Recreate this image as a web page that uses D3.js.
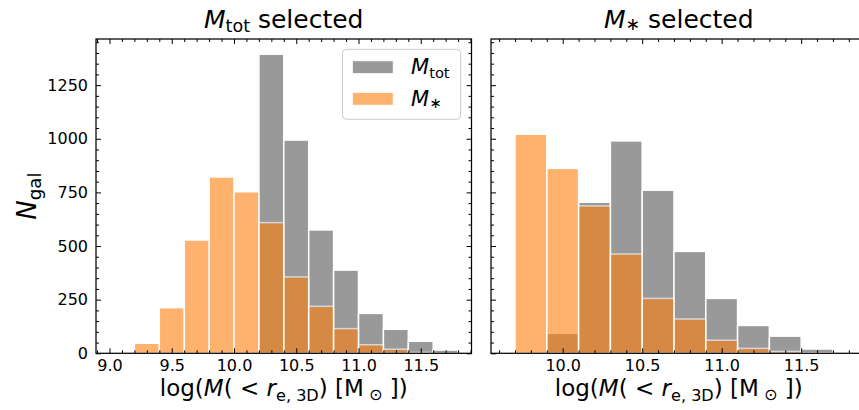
<!DOCTYPE html>
<html>
<head>
<meta charset="utf-8">
<script src="https://cdn.jsdelivr.net/npm/d3@7/dist/d3.min.js"></script>
<style>
  body { margin: 0; background: #fff; }
  text { font-family: "DejaVu Sans", sans-serif; fill: #000; }
</style>
</head>
<body>
<svg id="fig" width="859" height="410"></svg>
<script>
// Histogram bin edges (log mass) and counts per bin
const leftEdges     = [9.2, 9.4, 9.6, 9.8, 10.0, 10.2, 10.4, 10.6, 10.8, 11.0, 11.2, 11.4, 11.6, 11.8];
const leftTotal     = [0, 0, 0, 0, 0, 1394, 994, 575, 388, 186, 112, 56, 15];
const leftStellar   = [47, 213, 528, 822, 753, 609, 356, 219, 115, 40, 19, 4, 0];

const rightEdges    = [9.7, 9.9, 10.1, 10.3, 10.5, 10.7, 10.9, 11.1, 11.3, 11.5, 11.7];
const rightTotal    = [0, 93, 704, 990, 760, 475, 256, 130, 80, 20];
const rightStellar  = [1021, 862, 687, 463, 256, 160, 61, 23, 9, 2];

// Tick values
const xTicksLeft  = [9.0, 9.5, 10.0, 10.5, 11.0, 11.5];
const xTicksRight = [10.0, 10.5, 11.0, 11.5];
const yTicks      = [0, 250, 500, 750, 1000, 1250];

const colTotal = "#808080", alphaTotal = 0.8;
const colStellar = "#ff7f0e", alphaStellar = 0.6;

const svg = d3.select("#fig");
const Y0 = 39, Y1 = 353.3;
const y = d3.scaleLinear().domain([0, 1465]).range([Y1, Y0]);

const panels = [
  { id: "L", x0: 96,  x1: 471.5, domain: [8.8916, 11.9076], edges: leftEdges,  tot: leftTotal,  star: leftStellar,  ticks: xTicksLeft,  ylabels: true,  sub: "tot" },
  { id: "R", x0: 491, x1: 866.5, domain: [9.549, 11.911],   edges: rightEdges, tot: rightTotal, star: rightStellar, ticks: xTicksRight, ylabels: false, sub: "∗" }
];

function minorTicks(dom, step, majors) {
  const out = [];
  const start = Math.ceil(dom[0] / step - 1e-9), end = Math.floor(dom[1] / step + 1e-9);
  for (let k = start; k <= end; k++) {
    const v = +(k * step).toFixed(6);
    if (!majors.some(m => Math.abs(m - v) < 1e-6)) out.push(v);
  }
  return out;
}

// Axis groups get their own font from d3; restyle them afterwards
const styleAxis = sel => {
  sel.select(".domain").remove();
  sel.attr("font-size", 16).attr("font-family", "DejaVu Sans");
  sel.selectAll(".tick line").attr("stroke", "#000").attr("stroke-width", 1);
  sel.selectAll(".tick text").attr("fill", "#000");
};

panels.forEach(p => {
  const x = d3.scaleLinear().domain(p.domain).range([p.x0, p.x1]);
  const g = svg.append("g");

  g.append("clipPath").attr("id", "clip" + p.id)
    .append("rect").attr("x", p.x0).attr("y", Y0).attr("width", p.x1 - p.x0).attr("height", Y1 - Y0);

  const plot = g.append("g").attr("clip-path", `url(#clip${p.id})`);

  const bins = vals => vals.map((v, i) => ({ a: p.edges[i], b: p.edges[i + 1], v })).filter(d => d.v > 0);

  plot.selectAll("rect.tot").data(bins(p.tot)).join("rect")
    .attr("class", "tot")
    .attr("x", d => x(d.a)).attr("width", d => x(d.b) - x(d.a))
    .attr("y", d => y(d.v)).attr("height", d => y(0) - y(d.v))
    .attr("fill", colTotal).attr("stroke", "#fff").attr("stroke-width", 1.5)
    .attr("opacity", alphaTotal);

  plot.selectAll("rect.star").data(bins(p.star)).join("rect")
    .attr("class", "star")
    .attr("x", d => x(d.a)).attr("width", d => x(d.b) - x(d.a))
    .attr("y", d => y(d.v)).attr("height", d => y(0) - y(d.v))
    .attr("fill", colStellar).attr("stroke", "#fff").attr("stroke-width", 1.5)
    .attr("opacity", alphaStellar);

  // Ticks point inward on all four sides
  const xMajors = d3.range(Math.ceil(p.domain[0] * 2), Math.floor(p.domain[1] * 2) + 1).map(k => k / 2);
  const xMinors = minorTicks(p.domain, 0.1, xMajors);
  const yMinors = minorTicks(y.domain(), 50, yTicks);
  const MAJ = 5, MIN = 3;

  const axes = g.append("g");

  axes.append("g").attr("transform", `translate(0,${Y1})`)
    .call(d3.axisBottom(x).tickValues(p.ticks).tickSize(-MAJ).tickPadding(6).tickFormat(d3.format(".1f"))).call(styleAxis);
  axes.append("g").attr("transform", `translate(0,${Y1})`)
    .call(d3.axisBottom(x).tickValues(xMinors).tickSize(-MIN).tickFormat("")).call(styleAxis);
  axes.append("g").attr("transform", `translate(0,${Y0})`)
    .call(d3.axisTop(x).tickValues(xMajors).tickSize(-MAJ).tickFormat("")).call(styleAxis);
  axes.append("g").attr("transform", `translate(0,${Y0})`)
    .call(d3.axisTop(x).tickValues(xMinors).tickSize(-MIN).tickFormat("")).call(styleAxis);

  axes.append("g").attr("transform", `translate(${p.x0},0)`)
    .call(d3.axisLeft(y).tickValues(yTicks).tickSize(-MAJ).tickPadding(8).tickFormat(p.ylabels ? d3.format("d") : "")).call(styleAxis);
  axes.append("g").attr("transform", `translate(${p.x0},0)`)
    .call(d3.axisLeft(y).tickValues(yMinors).tickSize(-MIN).tickFormat("")).call(styleAxis);
  axes.append("g").attr("transform", `translate(${p.x1},0)`)
    .call(d3.axisRight(y).tickValues(yTicks).tickSize(-MAJ).tickFormat("")).call(styleAxis);
  axes.append("g").attr("transform", `translate(${p.x1},0)`)
    .call(d3.axisRight(y).tickValues(yMinors).tickSize(-MIN).tickFormat("")).call(styleAxis);

  g.append("rect")
    .attr("x", p.x0).attr("y", Y0).attr("width", p.x1 - p.x0).attr("height", Y1 - Y0)
    .attr("fill", "none").attr("stroke", "#000").attr("stroke-width", 1.25);

  const cx = (p.x0 + p.x1) / 2;

  // Panel title
  const t = g.append("text").attr("x", cx).attr("y", 28).attr("text-anchor", "middle").attr("font-size", 25);
  t.append("tspan").attr("font-style", "italic").text("M");
  t.append("tspan").attr("font-size", 17.5).attr("dy", p.sub === "tot" ? 4 : 2).text(p.sub);
  t.append("tspan").attr("dy", p.sub === "tot" ? -4 : -2).text(" selected");

  // x-axis label
  const xl = g.append("text").attr("x", cx).attr("y", 396).attr("text-anchor", "middle").attr("font-size", 23);
  xl.append("tspan").text("log(");
  xl.append("tspan").attr("font-style", "italic").text("M");
  xl.append("tspan").text("( < ");
  xl.append("tspan").attr("font-style", "italic").text("r");
  xl.append("tspan").attr("font-size", 16.1).attr("dy", 5).text("e, 3D");
  xl.append("tspan").attr("dy", -5).text(") [M");
  xl.append("tspan").attr("font-size", 16.1).attr("dy", 4).text(" ⊙");
  xl.append("tspan").attr("dy", -4).text(" ])");
});

// y-axis label
const yl = svg.append("text").attr("transform", `translate(36,${(Y0 + Y1) / 2}) rotate(-90)`)
  .attr("text-anchor", "middle").attr("font-size", 26);
yl.append("tspan").attr("font-style", "italic").text("N");
yl.append("tspan").attr("font-size", 18.2).attr("dy", 5).text("gal");

// Legend
const lg = svg.append("g");
lg.append("rect").attr("x", 342.5).attr("y", 49.3).attr("width", 118.2).attr("height", 70)
  .attr("rx", 4).attr("fill", "#fff").attr("fill-opacity", 0.8)
  .attr("stroke", "#cccccc").attr("stroke-width", 1);
const items = [
  { sub: "tot", color: colTotal,   alpha: alphaTotal,   y: 60.7 },
  { sub: "∗",   color: colStellar, alpha: alphaStellar, y: 92.3 }
];
items.forEach(it => {
  lg.append("rect").attr("x", 352.3).attr("y", it.y).attr("width", 41).attr("height", 13)
    .attr("fill", it.color).attr("opacity", it.alpha).attr("stroke", "#fff").attr("stroke-width", 1);
  const tx = lg.append("text").attr("x", 411).attr("y", it.y + 13.5).attr("font-size", 21);
  tx.append("tspan").attr("font-style", "italic").text("M");
  tx.append("tspan").attr("font-size", 14.7).attr("dy", it.sub === "tot" ? 4 : 2).text(it.sub);
});
</script>
</body>
</html>
